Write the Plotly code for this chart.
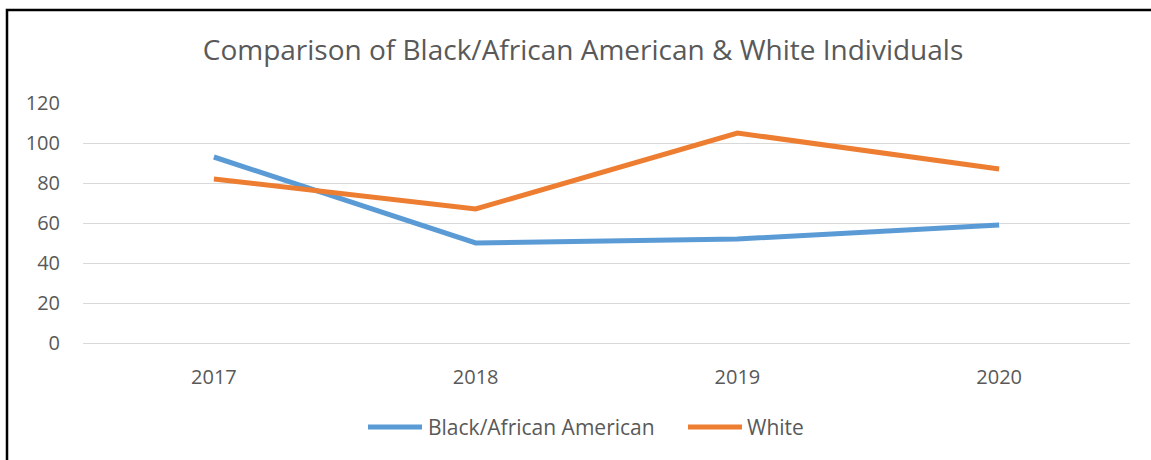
import plotly.graph_objects as go

years = ["2017", "2018", "2019", "2020"]
black_african_american = [93, 50, 52, 59]
white = [82, 67, 105, 87]
y_ticks = [0, 20, 40, 60, 80, 100, 120]

series = [
    ("Black/African American", black_african_american, "#5B9BD5"),
    ("White", white, "#ED7D31"),
]

FONT = "'Open Sans', Lato, sans-serif"
TXT = "#595959"

W, H = 1151, 460
L, R, T, B = 83, 21, 103, 117
pw, ph = W - L - R, H - T - B


def px_x(x):
    return (x - L) / pw


def px_y(y):
    return (H - B - y) / ph


fig = go.Figure()
for name, vals, color in series:
    fig.add_trace(go.Scatter(
        x=years, y=vals, name=name, mode="lines",
        line=dict(color=color, width=5), showlegend=False,
    ))

fig.update_layout(
    width=W, height=H,
    margin=dict(l=L, r=R, t=T, b=B),
    paper_bgcolor="white", plot_bgcolor="white",
    font=dict(family=FONT, color=TXT, size=20),
    title=dict(text="Comparison of Black/African American & White Individuals",
               x=px_x(583), xanchor="center", y=1 - 50 / H, yanchor="middle",
               xref="paper",
               font=dict(size=28, color=TXT, family=FONT)),
    xaxis=dict(type="category", range=[-0.5, 3.5], showgrid=False,
               showline=False, ticks="", zeroline=False,
               ticklabelstandoff=20, tickfont=dict(size=20, color=TXT)),
    yaxis=dict(range=[0, 120], tickvals=y_ticks, showgrid=True,
               gridcolor="#D9D9D9", gridwidth=1.3, zeroline=True,
               zerolinecolor="#D9D9D9", zerolinewidth=1.3,
               showline=False, ticks="", ticklabelstandoff=22,
               tickfont=dict(size=20, color=TXT)),
    showlegend=False,
)

# Legend drawn below the plot: a line sample followed by its label
legend_items = [(368, 422, 426), (688, 742, 745)]
for (name, _, color), (lx0, lx1, tx) in zip(series, legend_items):
    fig.add_shape(type="line", xref="paper", yref="paper",
                  x0=px_x(lx0), x1=px_x(lx1), y0=px_y(427), y1=px_y(427),
                  line=dict(color=color, width=5))
    fig.add_annotation(text=name, xref="paper", yref="paper",
                       x=px_x(tx), y=px_y(427), xanchor="left", yanchor="middle",
                       showarrow=False, font=dict(size=21, color=TXT, family=FONT))

# Outer frame around the chart area
fig.add_shape(type="rect", xref="paper", yref="paper",
              x0=px_x(7), x1=px_x(W + 20),
              y0=px_y(H + 20), y1=px_y(10),
              line=dict(color="black", width=2.5), fillcolor="rgba(0,0,0,0)",
              layer="below")

fig.write_html("out.html")
